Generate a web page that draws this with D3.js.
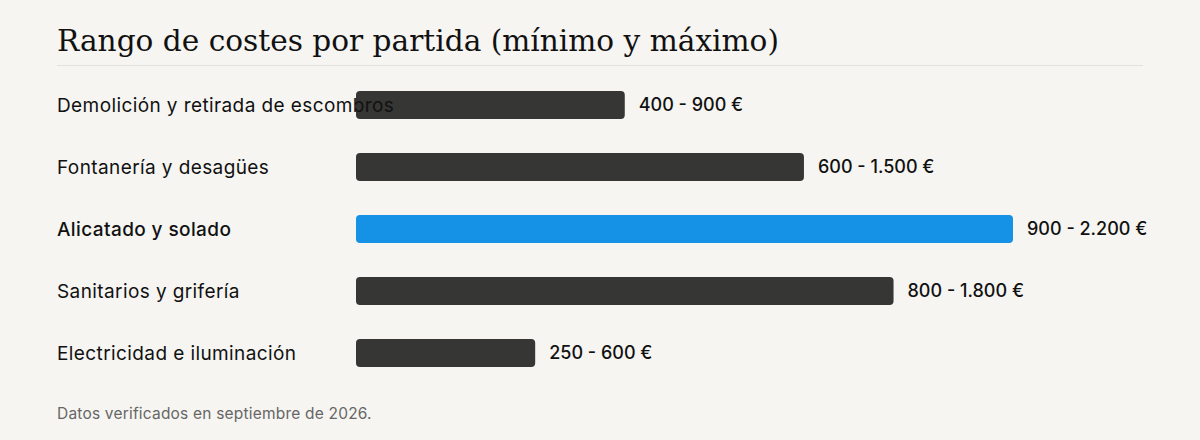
<!DOCTYPE html>
<html>
<head>
<meta charset="utf-8">
<script src="https://cdn.jsdelivr.net/npm/d3@7"></script>
<style>
  html, body { margin: 0; padding: 0; background: #f6f5f1; }
  svg { display: block; }
</style>
</head>
<body>
<svg></svg>
<script>
// datos
const partidas = ['Demolición y retirada de escombros', 'Fontanería y desagües', 'Alicatado y solado', 'Sanitarios y grifería', 'Electricidad e iluminación']
const minimos = [400, 600, 900, 800, 250]
const maximos = [900, 1500, 2200, 1800, 600]
const destacada = 'Alicatado y solado'

const width = 1200
const height = 440
const svg = d3.select('svg')
    .attr('width', width)
    .attr('height', height)

const fmt = d3.formatLocale({decimal: ',', thousands: '.', grouping: [3], currency: ['', ' €']}).format(',d')
const sans = 'Inter, Helvetica, Arial, sans-serif'

// titulo
svg.append('text')
    .text('Rango de costes por partida (mínimo y máximo)')
    .attr('x', 57)
    .attr('y', 51)
    .attr('font-family', 'DejaVu Serif, Georgia, serif')
    .attr('font-size', 29.6)
    .attr('fill', '#111')

svg.append('line')
    .attr('x1', 57).attr('x2', 1143)
    .attr('y1', 65.5).attr('y2', 65.5)
    .attr('stroke', '#e4e2dd')
    .attr('stroke-width', 1)

// escalas
const xScale = d3.scaleLinear()
    .domain([0, d3.max(maximos)])
    .range([356, 1013])

const yScale = d3.scaleBand()
    .domain(partidas)
    .range([74, 384])
    .paddingInner(0.55)
    .paddingOuter(0.275)

// barras (debajo de las etiquetas)
svg.append('g').selectAll('rect').data(partidas).enter()
    .append('rect')
    .attr('x', xScale(0))
    .attr('y', d => yScale(d))
    .attr('width', (d, i) => xScale(maximos[i]) - xScale(0))
    .attr('height', yScale.bandwidth())
    .attr('rx', 4)
    .attr('fill', d => d === destacada ? '#1592e5' : '#363634')

// etiquetas de partida
svg.append('g').selectAll('text').data(partidas).enter()
    .append('text')
    .text(d => d)
    .attr('x', 57)
    .attr('y', d => yScale(d) + yScale.bandwidth() / 2)
    .attr('dy', '0.35em')
    .attr('font-family', sans)
    .attr('font-size', 19)
    .attr('letter-spacing', 0.4)
    .attr('font-weight', d => d === destacada ? 500 : 400)
    .attr('fill', '#111')

// rango de valores
svg.append('g').selectAll('text').data(partidas).enter()
    .append('text')
    .text((d, i) => fmt(minimos[i]) + ' - ' + fmt(maximos[i]) + ' €')
    .attr('x', (d, i) => xScale(maximos[i]) + 14)
    .attr('y', d => yScale(d) + yScale.bandwidth() / 2)
    .attr('dy', '0.35em')
    .attr('font-family', sans)
    .attr('font-size', 18)
    .attr('font-weight', 500)
    .attr('fill', '#111')

// nota
svg.append('text')
    .text('Datos verificados en septiembre de 2026.')
    .attr('x', 57)
    .attr('y', 419)
    .attr('font-family', sans)
    .attr('font-size', 15.5)
    .attr('letter-spacing', 0.2)
    .attr('fill', '#666')
</script>
</body>
</html>
